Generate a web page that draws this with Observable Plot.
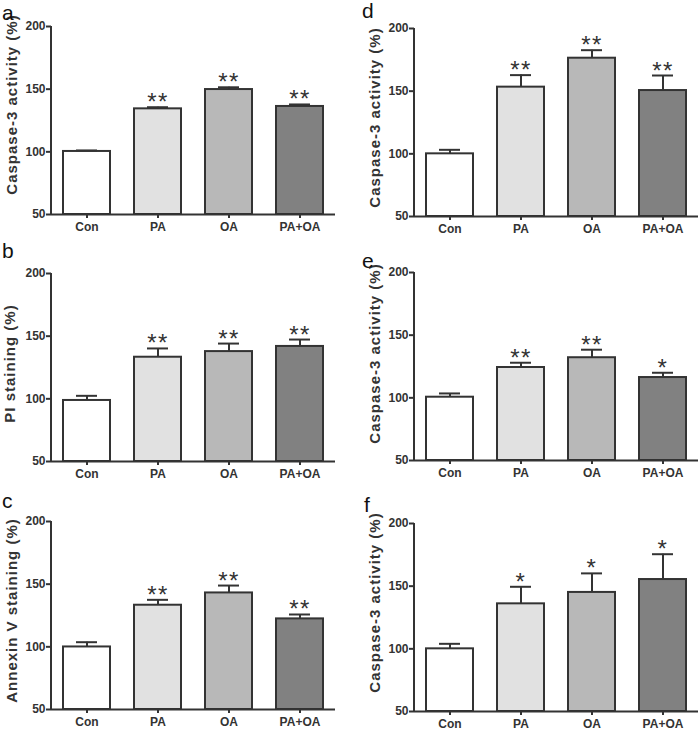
<!DOCTYPE html>
<html>
<head>
<meta charset="utf-8">
<script src="https://cdn.jsdelivr.net/npm/d3@7"></script>
<script src="https://cdn.jsdelivr.net/npm/@observablehq/plot@0.6"></script>
<style>
  html, body { margin: 0; padding: 0; background: #fff; overflow: hidden; }
  #fig { position: relative; width: 700px; height: 730px; font-family: "Liberation Sans", Arial, sans-serif; }
  .panel { position: absolute; }
  .letter { position: absolute; font-size: 21px; line-height: 1; color: #111; font-family: "Liberation Sans", Arial, sans-serif; }
  g.stars text { letter-spacing: 1.5px; }
  g.ylab text { letter-spacing: 1px; }
</style>
</head>
<body>
<div id="fig"></div>
<script>
// ---- data ----
const groups = ["Con", "PA", "OA", "PA+OA"];
const groupFills = ["#ffffff", "#e1e1e1", "#b8b8b8", "#818181"];
const yTicks = [50, 100, 150, 200];
const yDomain = [50, 200];

const panelLetters = ["a", "b", "c", "d", "e", "f"];
const yLabels = [
  "Caspase-3 activity (%)",
  "PI staining (%)",
  "Annexin V staining (%)",
  "Caspase-3 activity (%)",
  "Caspase-3 activity (%)",
  "Caspase-3 activity (%)"
];

const meanA = [100.3, 134.3, 149.7, 136.2];
const semA  = [0.8, 1.3, 1.8, 1.6];
const starsA = ["", "**", "**", "**"];

const meanB = [98.7, 133.2, 137.7, 141.8];
const semB  = [3.7, 7.0, 6.4, 5.5];
const starsB = ["", "**", "**", "**"];

const meanC = [99.9, 133.2, 143.0, 122.3];
const semC  = [3.8, 4.3, 5.9, 3.5];
const starsC = ["", "**", "**", "**"];

const meanD = [100.0, 153.2, 176.3, 150.5];
const semD  = [3.2, 9.6, 6.4, 12.0];
const starsD = ["", "**", "**", "**"];

const meanE = [100.5, 124.2, 132.0, 116.2];
const semE  = [3.0, 3.8, 6.4, 3.8];
const starsE = ["", "**", "**", "*"];

const meanF = [100.0, 135.9, 145.0, 155.3];
const semF  = [4.0, 13.6, 15.2, 20.2];
const starsF = ["", "*", "*", "*"];

const panelMeans = [meanA, meanB, meanC, meanD, meanE, meanF];
const panelSems = [semA, semB, semC, semD, semE, semF];
const panelStars = [starsA, starsB, starsC, starsD, starsE, starsF];

// ---- layout ----
const layout = [
  {left: 0,   top: 0,   ml: 51, mr: 15, ldx: -35, ldy: -16, letterLeft: 2,   letterTop: 2},
  {left: 0,   top: 247, ml: 51, mr: 15, ldx: -37, ldy: -4,  letterLeft: 2,   letterTop: 240},
  {left: 0,   top: 495, ml: 51, mr: 15, ldx: -35, ldy: -5,  letterLeft: 2,   letterTop: 490},
  {left: 350, top: 2,   ml: 64, mr: 2,  ldx: -35, ldy: -5,  letterLeft: 362, letterTop: 0},
  {left: 350, top: 246, ml: 64, mr: 2,  ldx: -35, ldy: -13, letterLeft: 362, letterTop: 250},
  {left: 350, top: 497, ml: 64, mr: 2,  ldx: -35, ldy: -15, letterLeft: 364, letterTop: 494}
];

const ink = "#333";

function yAxisLine(index, scales, values, dims) {
  const x = dims.marginLeft;
  const y1 = scales.y(yDomain[0]);
  const y2 = scales.y(yDomain[1]);
  return d3.create("svg:line")
    .attr("x1", x).attr("x2", x).attr("y1", y1 + 1).attr("y2", y2)
    .attr("stroke", ink).attr("stroke-width", 2).node();
}

function panel(i) {
  const L = layout[i];
  const data = groups.map((g, k) => ({
    g, mean: panelMeans[i][k], hi: panelMeans[i][k] + panelSems[i][k],
    star: panelStars[i][k], fill: groupFills[k]
  }));
  const svg = Plot.plot({
    width: 350, height: 236,
    marginTop: 26, marginBottom: 22, marginLeft: L.ml, marginRight: L.mr,
    style: {fontFamily: "Liberation Sans, Arial, sans-serif", color: ink, background: "transparent", overflow: "visible"},
    x: {domain: groups, paddingInner: 0.34, paddingOuter: 0.17, label: null},
    y: {domain: yDomain, label: null},
    color: {type: "identity"},
    marks: [
      Plot.barY(data, {x: "g", y1: yDomain[0], y2: "mean", fill: "fill", stroke: ink, strokeWidth: 2}),
      Plot.ruleX(data, {x: "g", y1: "mean", y2: "hi", stroke: ink, strokeWidth: 2}),
      Plot.tickY(data, {x: "g", y: "hi", insetLeft: 13, insetRight: 13, stroke: ink, strokeWidth: 2}),
      Plot.text(data, {x: "g", y: "hi", text: "star", fontSize: 24, lineAnchor: "bottom", dy: 3, fill: ink, className: "stars"}),
      Plot.ruleY([yDomain[0]], {stroke: ink, strokeWidth: 2}),
      yAxisLine,
      Plot.axisX({tickSize: 4, tickPadding: 4, strokeWidth: 2, stroke: ink, fill: ink, label: null,
        fontSize: 12, fontWeight: "bold"}),
      Plot.axisY(yTicks, {tickSize: 5, tickPadding: 1, strokeWidth: 2, stroke: ink, fill: ink, label: null,
        fontSize: 12, fontWeight: "bold"}),
      Plot.text([yLabels[i]], {text: d => d, frameAnchor: "left", rotate: -90, dx: L.ldx, dy: L.ldy,
        fontSize: 15, fontWeight: "bold", textAnchor: "middle", lineAnchor: "bottom", fill: ink, className: "ylab"})
    ]
  });
  svg.classList.add("panel");
  svg.style.left = L.left + "px";
  svg.style.top = L.top + "px";
  return svg;
}

const fig = document.getElementById("fig");
for (let i = 0; i < 6; i++) {
  fig.appendChild(panel(i));
  const lt = document.createElement("div");
  lt.className = "letter";
  lt.textContent = panelLetters[i];
  lt.style.left = layout[i].letterLeft + "px";
  lt.style.top = layout[i].letterTop + "px";
  fig.appendChild(lt);
}
d3.selectAll("#fig g[font-size='24']").classed("stars", true);
</script>
</body>
</html>
